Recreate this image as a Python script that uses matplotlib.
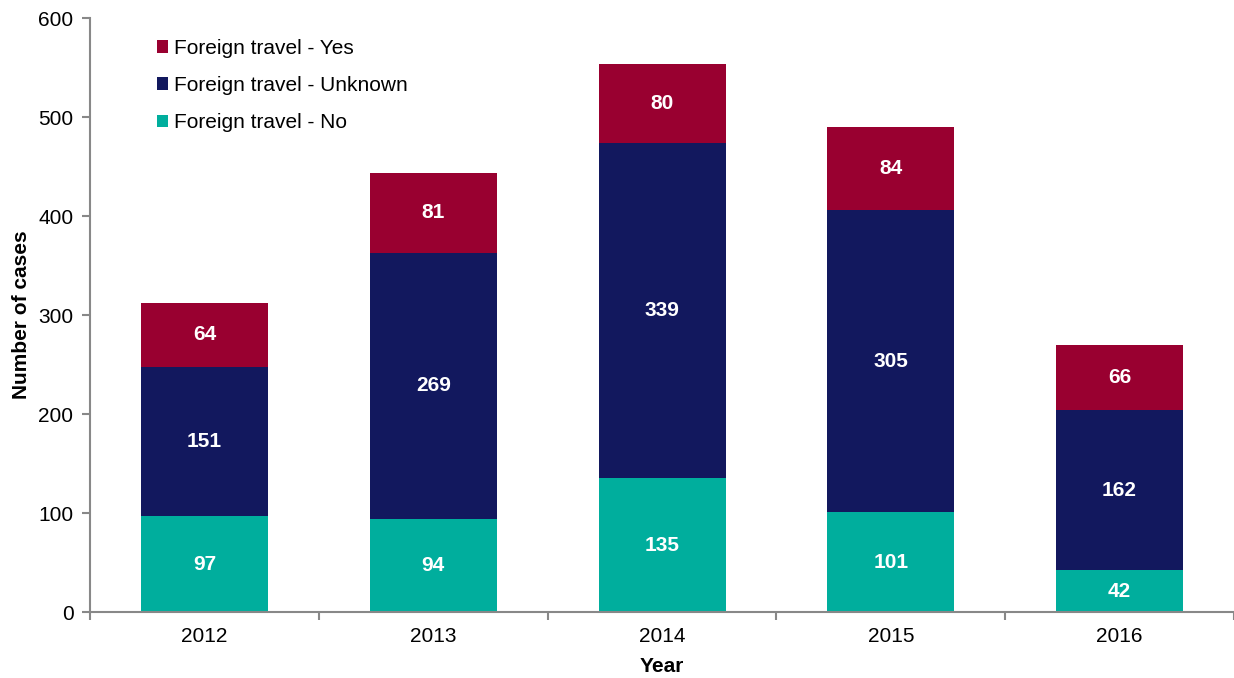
import matplotlib.pyplot as plt
import numpy as np

plt.rcParams["font.family"] = ["Liberation Sans", "DejaVu Sans"]

years = ["2012", "2013", "2014", "2015", "2016"]
travel_no = [97, 94, 135, 101, 42]
travel_unknown = [151, 269, 339, 305, 162]
travel_yes = [64, 81, 80, 84, 66]

colors = {"no": "#00ae9d", "unknown": "#12185e", "yes": "#990030"}

fig = plt.figure(figsize=(12.34, 6.78), dpi=100)
ax = fig.add_axes([0.073, 0.0973, 0.927, 0.876])

x = np.arange(len(years))
w = 0.555
no = np.array(travel_no)
unk = np.array(travel_unknown)
yes = np.array(travel_yes)

b1 = ax.bar(x, no, w, color=colors["no"], label="Foreign travel - No")
b2 = ax.bar(x, unk, w, bottom=no, color=colors["unknown"], label="Foreign travel - Unknown")
b3 = ax.bar(x, yes, w, bottom=no + unk, color=colors["yes"], label="Foreign travel - Yes")

for bars in (b1, b2, b3):
    ax.bar_label(bars, label_type="center", color="white", fontsize=15, fontweight="bold")

ax.set_xlim(-0.5, len(years) - 0.5)
ax.set_ylim(0, 600)
ax.set_yticks(range(0, 601, 100))
ax.set_xticks(x)
ax.set_xticklabels(years)
ax.set_xticks(np.arange(-0.5, len(years)), minor=True)
ax.tick_params(axis="x", which="major", length=0, labelsize=15, pad=11)
ax.tick_params(axis="x", which="minor", length=6, color="#888888", width=1.5)
ax.tick_params(axis="y", length=6, color="#888888", width=1.5, labelsize=15, pad=6)

for side in ("top", "right"):
    ax.spines[side].set_visible(False)
for side in ("left", "bottom"):
    ax.spines[side].set_color("#888888")
    ax.spines[side].set_linewidth(1.5)

ax.set_xlabel("Year", fontsize=15, fontweight="bold", labelpad=8)
ax.set_ylabel("Number of cases", fontsize=15, fontweight="bold", labelpad=5)

handles, labels = ax.get_legend_handles_labels()
ax.legend(handles[::-1], labels[::-1], loc="upper left", bbox_to_anchor=(0.042, 0.997),
          frameon=False, fontsize=15, handlelength=0.55, handleheight=0.55,
          handletextpad=0.25, labelspacing=0.88)

fig.savefig("out.png", dpi=100)
